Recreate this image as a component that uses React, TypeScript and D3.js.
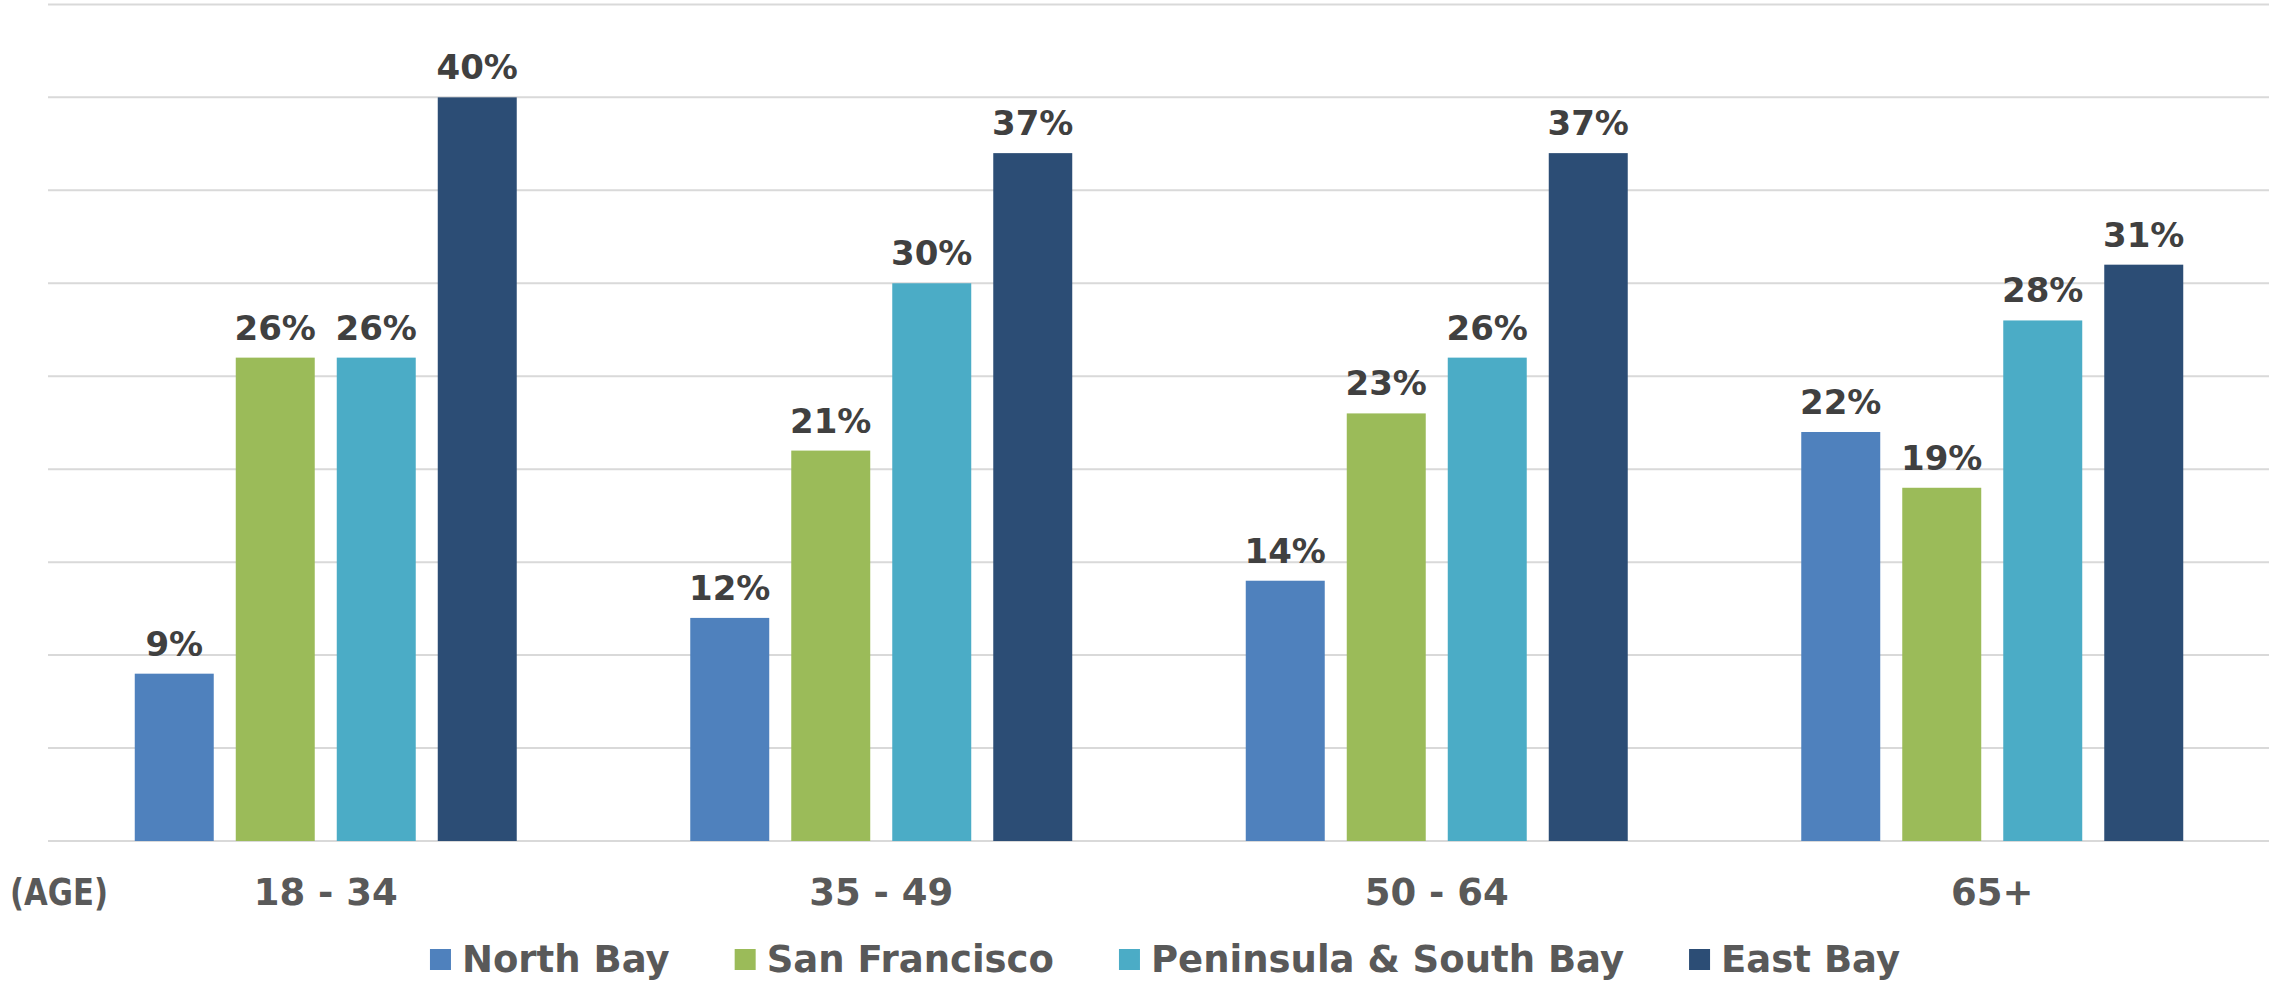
import React, { useLayoutEffect, useRef, useState } from "react";
import * as d3 from "d3";

const categories = ["18 - 34", "35 - 49", "50 - 64", "65+"];
const seriesNames = ["North Bay", "San Francisco", "Peninsula & South Bay", "East Bay"];
const northBay = [9, 12, 14, 22];
const sanFrancisco = [26, 21, 23, 19];
const peninsulaSouthBay = [26, 30, 26, 28];
const eastBay = [40, 37, 37, 31];
const seriesColors = ["#4F81BD", "#9BBB59", "#4BACC6", "#2C4D75"];
const yTicks = [0, 5, 10, 15, 20, 25, 30, 35, 40, 45];
const axisTitle = "(AGE)";

const W = 2269;
const H = 981;
const FONT = "'DejaVu Sans', Verdana, sans-serif";

export default function App() {
  const seriesValues = [northBay, sanFrancisco, peninsulaSouthBay, eastBay];
  const x0 = d3.scaleBand<string>().domain(categories).range([48, 2270]).padding(0);
  const groupW = 404;
  const x1 = d3
    .scaleBand<string>()
    .domain(seriesNames)
    .range([(x0.bandwidth() - groupW) / 2, (x0.bandwidth() + groupW) / 2])
    .paddingInner(0.218)
    .paddingOuter(0.109);
  const y = d3.scaleLinear().domain([0, 45]).range([841, 4.4]);

  const legendRefs = useRef<(SVGTextElement | null)[]>([]);
  const [legendW, setLegendW] = useState<number[]>(seriesNames.map(() => 150));
  useLayoutEffect(() => {
    const ws = legendRefs.current.map((t) => (t ? t.getComputedTextLength() : 150));
    setLegendW(ws);
  }, []);

  const sq = 21;
  const sqGap = 11;
  const itemGap = 65;
  const totalLegend = legendW.reduce((a, w) => a + sq + sqGap + w, 0) + itemGap * (seriesNames.length - 1);
  const legendCenter = 1165;
  let cursor = legendCenter - totalLegend / 2;
  const legendX = legendW.map((w) => {
    const xPos = cursor;
    cursor += sq + sqGap + w + itemGap;
    return xPos;
  });

  return (
    <svg
      width={W}
      height={H}
      style={{ position: "absolute", left: 0, top: 0, background: "#fff" }}
      fontFamily={FONT}
    >
      <g>
        {yTicks.map((t) => (
          <line key={t} x1={48} x2={2269} y1={y(t)} y2={y(t)} stroke="#D9D9D9" strokeWidth={2} />
        ))}
      </g>
      {categories.map((c, ci) => (
        <g key={c} transform={`translate(${x0(c)},0)`}>
          {seriesNames.map((s, si) => {
            const v = seriesValues[si][ci];
            const bx = x1(s) as number;
            return (
              <g key={s}>
                <rect x={bx} y={y(v)} width={x1.bandwidth()} height={y(0) - y(v)} fill={seriesColors[si]} />
                <text
                  x={bx + x1.bandwidth() / 2}
                  y={y(v) - 18}
                  textAnchor="middle"
                  fontSize={34}
                  fontWeight="bold"
                  fill="#404040"
                >
                  {`${v}%`}
                </text>
              </g>
            );
          })}
          <text
            x={x0.bandwidth() / 2}
            y={905}
            textAnchor="middle"
            fontSize={37}
            fontWeight="bold"
            fill="#595959"
          >
            {c}
          </text>
        </g>
      ))}
      <text
        x={10}
        y={905}
        fontSize={38}
        fontWeight="bold"
        fill="#595959"
        textLength={98}
        lengthAdjust="spacingAndGlyphs"
      >
        {axisTitle}
      </text>
      <g>
        {seriesNames.map((s, si) => (
          <g key={s} transform={`translate(${legendX[si]},0)`}>
            <rect x={0} y={949} width={sq} height={sq} fill={seriesColors[si]} />
            <text
              ref={(el) => {
                legendRefs.current[si] = el;
              }}
              x={sq + sqGap}
              y={972}
              fontSize={37}
              fontWeight="bold"
              fill="#595959"
            >
              {s}
            </text>
          </g>
        ))}
      </g>
    </svg>
  );
}
